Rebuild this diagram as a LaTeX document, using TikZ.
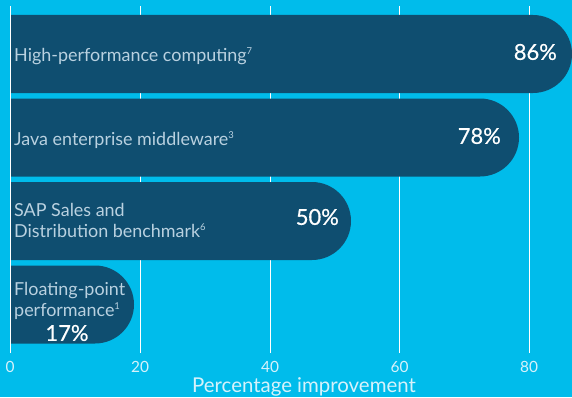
\documentclass[tikz,border=0pt]{standalone}
\usepackage{fontspec}
\setmainfont{Lato}
\newfontfamily\pctfont[FakeBold=0.6]{Lato}
\definecolor{bgc}{HTML}{00BCEB}
\definecolor{barc}{HTML}{0F4E70}
\definecolor{labc}{HTML}{B9D1E0}
\definecolor{tickc}{HTML}{D6F2FB}
\tikzset{
  bar/.style={fill=barc, draw=none},
  grid/.style={draw=white, line width=0.9bp},
  lab/.style={text=labc, inner sep=0pt, anchor=base west, align=left, font=\fontsize{18}{21}\selectfont},
  pct/.style={text=white, inner sep=0pt, font=\pctfont\fontsize{22}{24}\selectfont},
  tick/.style={text=tickc, inner sep=0pt, font=\fontsize{15.5}{18}\selectfont},
}
\newcommand{\supn}[1]{\textsuperscript{\fontsize{9.5}{10}\selectfont #1}}
\begin{document}
\begin{tikzpicture}[x=1bp,y=1bp]
\fill[bgc] (0,0) rectangle (572,397);
\useasboundingbox (0,0) rectangle (572,397);
% grid behind bars
\foreach \gx in {140,270,399.5,529} \draw[grid] (\gx,44) -- (\gx,391);
% bars
\fill[bar] (10,382) -- (533,382) arc[start angle=90, end angle=-90, radius=39] -- (10,304) -- cycle;
\fill[bar] (10,298.5) -- (480,298.5) arc[start angle=90, end angle=-90, radius=39] -- (10,220.5) -- cycle;
\fill[bar] (10,215) -- (312,215) arc[start angle=90, end angle=-90, radius=39] -- (10,137) -- cycle;
\fill[bar] (10,131.5) -- (95,131.5) arc[start angle=90, end angle=-90, radius=39] -- (10,53.5) -- cycle;
% zero axis line on top
\draw[grid] (10,44) -- (10,391);
% labels
\node[lab] (l1) at (14,336) {High-performance computing\supn{7}};
\node[lab] (l2) at (14,252) {Java enterprise middleware\supn{3}};
\node[lab] (l3) at (14,160) {SAP Sales and\\Distribution benchmark\supn{6}};
\node[lab] (l4) at (14,81) {Floating-point\\performance\supn{1}};
% percentages
\node[pct, anchor=east] (p1) at (557,345) {86\%};
\node[pct, anchor=east] (p2) at (501,261) {78\%};
\node[pct, anchor=east] (p3) at (339,180) {50\%};
\node[pct] (p4) at (67,64) {17\%};
% tick labels
\node[tick] (t0) at (10,30.5) {0};
\node[tick] (t20) at (140,30.5) {20};
\node[tick] (t40) at (270,30.5) {40};
\node[tick] (t60) at (399.5,30.5) {60};
\node[tick] (t80) at (529,30.5) {80};
\node[tick, anchor=base, font=\fontsize{20.5}{22}\selectfont] (xt) at (304,5) {Percentage improvement};
\end{tikzpicture}
\end{document}
